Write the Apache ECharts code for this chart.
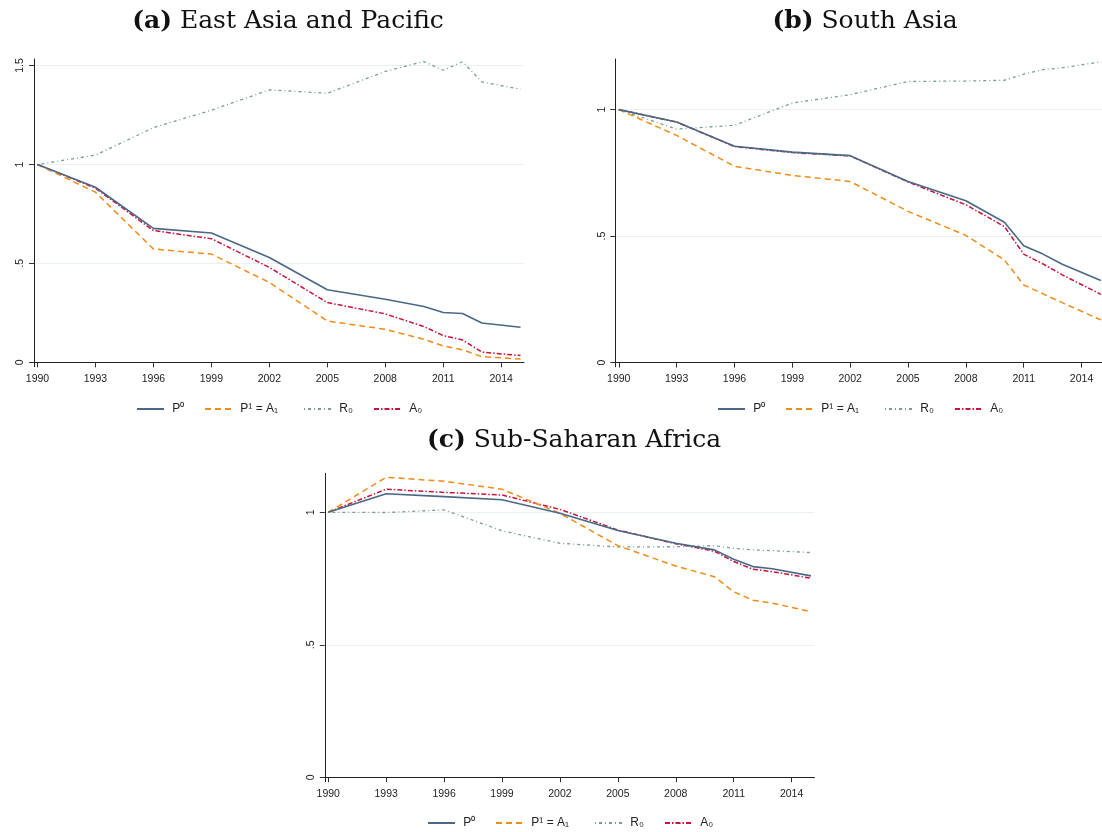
<!doctype html>
<html lang="en">
<head>
    <meta charset="UTF-8">
    <title>Poverty decomposition by region</title>
    <script src="https://cdn.jsdelivr.net/npm/echarts@6/dist/echarts.min.js"></script>
    <style>
        html, body { margin: 0; padding: 0; background: #fff; }
        #main { width: 1102px; height: 832px; }
    </style>
</head>
<body>
<div id="main"></div>
<script type="text/javascript">
    // years (x values shared by every panel)
    var years = [1990, 1993, 1996, 1999, 2002, 2005, 2008, 2010, 2011, 2012, 2013, 2015];
    var xTicks = [1990, 1993, 1996, 1999, 2002, 2005, 2008, 2011, 2014];
    var seriesNames = ['P\u2070', 'P\u00b9 = A\u2081', 'R\u2080', 'A\u2080'];

    // (a) East Asia and Pacific
    var eapP0 = [1.00, 0.885, 0.677, 0.654, 0.530, 0.367, 0.319, 0.282, 0.252, 0.247, 0.199, 0.177];
    var eapP1 = [1.00, 0.860, 0.573, 0.547, 0.404, 0.209, 0.167, 0.117, 0.083, 0.063, 0.029, 0.017];
    var eapR0 = [1.00, 1.047, 1.186, 1.274, 1.377, 1.360, 1.470, 1.520, 1.476, 1.519, 1.417, 1.380];
    var eapA0 = [1.00, 0.880, 0.666, 0.625, 0.480, 0.302, 0.245, 0.181, 0.135, 0.113, 0.052, 0.034];
    var eapYTicks = [0, 0.5, 1, 1.5];

    // (b) South Asia
    var saP0 = [1.00, 0.951, 0.855, 0.832, 0.818, 0.716, 0.640, 0.555, 0.462, 0.429, 0.389, 0.325];
    var saP1 = [1.00, 0.898, 0.776, 0.740, 0.716, 0.598, 0.503, 0.406, 0.307, 0.272, 0.237, 0.169];
    var saR0 = [1.00, 0.923, 0.938, 1.026, 1.059, 1.111, 1.113, 1.116, 1.140, 1.158, 1.165, 1.189];
    var saA0 = [1.00, 0.951, 0.854, 0.830, 0.817, 0.714, 0.624, 0.538, 0.429, 0.390, 0.347, 0.270];
    var saYTicks = [0, 0.5, 1];

    // (c) Sub-Saharan Africa
    var ssaP0 = [1.00, 1.070, 1.059, 1.047, 0.996, 0.931, 0.883, 0.858, 0.823, 0.795, 0.787, 0.760];
    var ssaP1 = [1.00, 1.132, 1.117, 1.087, 0.996, 0.874, 0.797, 0.757, 0.700, 0.668, 0.657, 0.625];
    var ssaR0 = [1.00, 0.999, 1.009, 0.930, 0.883, 0.869, 0.870, 0.874, 0.864, 0.858, 0.855, 0.848];
    var ssaA0 = [1.00, 1.087, 1.075, 1.065, 1.011, 0.933, 0.881, 0.853, 0.814, 0.785, 0.776, 0.751];
    var ssaYTicks = [0, 0.5, 1];

    var sansFont = '"Liberation Sans", Arial, sans-serif';
    var serifFont = '"DejaVu Serif", "Liberation Serif", serif';

    // line looks (Stata-like)
    var lineLooks = [
        { color: '#4a6886', type: 'solid', width: 1.6 },
        { color: '#f08c18', type: [6, 4], width: 1.5 },
        { color: '#7c9c90', type: [1, 3, 3, 3], width: 1.3 },
        { color: '#c8143c', type: [5, 2, 1.5, 2], width: 1.5 }
    ];
    // legend key offsets inside a panel's legend row
    var keyOffsets = [0, 68, 167, 237];

    var pairs = function (vals) {
        return years.map(function (y, i) { return [y, vals[i]]; });
    };

    var yLabel = function (v) {
        if (v === 0.5) return '.5';
        return String(v);
    };

    var makeX = function (idx) {
        return {
            type: 'value', gridIndex: idx, min: 1989.82, max: 2015.18,
            axisLine: { show: true, lineStyle: { color: '#222', width: 1 } },
            axisTick: { show: true, length: 5, customValues: xTicks, lineStyle: { color: '#333' } },
            axisLabel: { customValues: xTicks, margin: 7, fontSize: 10.5, color: '#222', fontFamily: sansFont,
                formatter: function (v) { return String(v); } },
            splitLine: { show: false }
        };
    };

    var makeY = function (idx, min, max, ticks) {
        return {
            type: 'value', gridIndex: idx, min: min, max: max,
            axisLine: { show: true, lineStyle: { color: '#222', width: 1 } },
            axisTick: { show: true, length: 5, customValues: ticks, lineStyle: { color: '#333' } },
            axisLabel: { customValues: ticks, rotate: 90, margin: 8, fontSize: 10.5, color: '#222',
                fontFamily: sansFont, formatter: yLabel },
            splitLine: { show: true, lineStyle: { color: '#eaf1f2', width: 1 } }
        };
    };

    var makeSeries = function (idx, list) {
        return list.map(function (vals, k) {
            return {
                name: seriesNames[k], type: 'line', xAxisIndex: idx, yAxisIndex: idx,
                data: pairs(vals), symbol: 'none', showSymbol: false, animation: false,
                lineStyle: lineLooks[k], itemStyle: { color: lineLooks[k].color },
                z: 10 - k
            };
        });
    };

    // one legend per key so each key sits where the reference has it
    var makeLegendRow = function (left, top) {
        return seriesNames.map(function (nm, k) {
            return {
                left: left + keyOffsets[k], top: top, padding: 0, orient: 'horizontal',
                data: [nm], itemWidth: 27, itemHeight: 12,
                itemStyle: { opacity: 0 },
                formatter: function (name) { return ' ' + name; },
                textStyle: { fontSize: 12, color: '#222', fontFamily: sansFont },
                selectedMode: false
            };
        });
    };

    var makeTitle = function (tag, text, x, y) {
        return {
            text: '{b|' + tag + '} ' + text, left: x, top: y, textAlign: 'center', padding: 0,
            textStyle: {
                fontFamily: serifFont, fontSize: 25, fontWeight: 'normal', color: '#111',
                rich: { b: { fontFamily: serifFont, fontSize: 25, fontWeight: 'bold', color: '#111' } }
            }
        };
    };

    var myChart = echarts.init(document.getElementById('main'));
    var option = {
        backgroundColor: '#fff',
        animation: false,
        title: [
            makeTitle('(a)', 'East Asia and Pacific', 288, 9),
            makeTitle('(b)', 'South Asia', 865, 9),
            makeTitle('(c)', 'Sub-Saharan Africa', 574, 428)
        ],
        legend: [].concat(makeLegendRow(136, 403), makeLegendRow(717, 403), makeLegendRow(427, 817)),
        grid: [
            { left: 34, top: 59, width: 490, height: 307.7, containLabel: false, outerBoundsMode: 'none' },
            { left: 615.3, top: 59, width: 489, height: 307.7, containLabel: false, outerBoundsMode: 'none' },
            { left: 324.8, top: 473.3, width: 489.6, height: 308.4, containLabel: false, outerBoundsMode: 'none' }
        ],
        xAxis: [makeX(0), makeX(1), makeX(2)],
        yAxis: [
            makeY(0, -0.022, 1.533, eapYTicks),
            makeY(1, -0.016, 1.2, saYTicks),
            makeY(2, -0.0166, 1.147, ssaYTicks)
        ],
        series: [].concat(
            makeSeries(0, [eapP0, eapP1, eapR0, eapA0]),
            makeSeries(1, [saP0, saP1, saR0, saA0]),
            makeSeries(2, [ssaP0, ssaP1, ssaR0, ssaA0])
        )
    };
    myChart.setOption(option);
</script>
</body>
</html>
